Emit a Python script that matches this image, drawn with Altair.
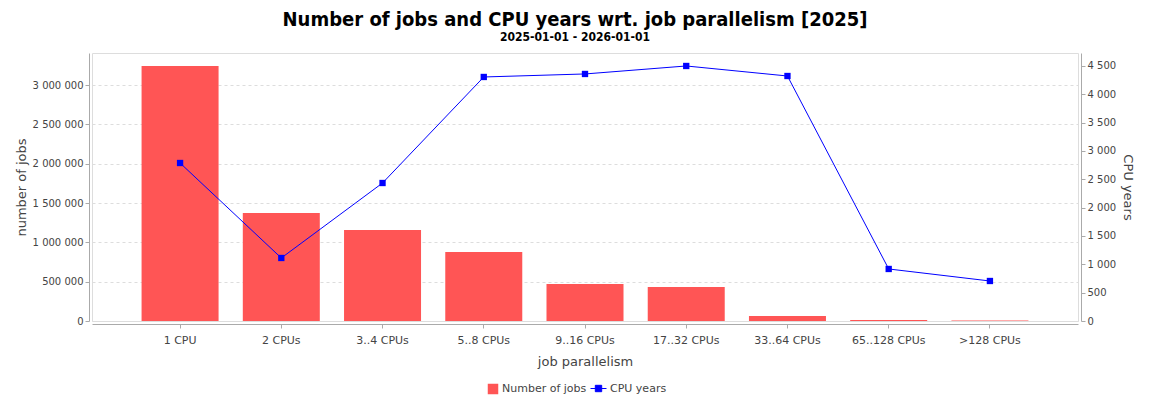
import altair as alt
import pandas as pd

categories = ["1 CPU", "2 CPUs", "3..4 CPUs", "5..8 CPUs", "9..16 CPUs",
              "17..32 CPUs", "33..64 CPUs", "65..128 CPUs", ">128 CPUs"]
jobs = [3241000, 1373000, 1157000, 877000, 470000, 432000, 64000, 13000, 6000]
cpu_years = [2788, 1112, 2435, 4306, 4359, 4500, 4323, 918, 706]

df = pd.DataFrame({"cat": categories, "jobs": jobs, "cpu": cpu_years})

FONT = "DejaVu Sans"
TXT = "#444444"
GRIDC = "#DDDDDD"
AXC = "#AAAAAA"
RED = "#FF5555"
BLUE = "#0000FF"

x_enc = alt.X("cat:N", sort=categories, title="job parallelism",
              scale=alt.Scale(paddingInner=0.24, paddingOuter=0.49),
              axis=alt.Axis(labelAngle=0, labelFont=FONT, labelFontSize=11, labelColor=TXT,
                            titleFont=FONT, titleFontSize=13, titleFontWeight="normal",
                            titleColor=TXT, domainColor=AXC, tickColor=AXC, tickSize=4,
                            offset=3, labelPadding=6, titlePadding=10, grid=False))

bars = alt.Chart(df).transform_calculate(s="'Number of jobs'").mark_bar(size=77).encode(
    x=x_enc,
    y=alt.Y("jobs:Q", title="number of jobs",
            scale=alt.Scale(domain=[0, 3407000], nice=False),
            axis=alt.Axis(values=[0, 500000, 1000000, 1500000, 2000000, 2500000, 3000000],
                          labelExpr="replace(format(datum.value, ','), regexp(',', 'g'), ' ')",
                          labelFont=FONT, labelFontSize=10, labelColor=TXT,
                          titleFont=FONT, titleFontSize=13, titleFontWeight="normal",
                          titleColor=TXT, domainColor=AXC, tickColor=AXC, tickSize=4,
                          offset=3, grid=True, gridColor=GRIDC, gridDash=[3, 3],
                          titlePadding=4)),
    fill=alt.Fill("s:N", scale=alt.Scale(domain=["Number of jobs"], range=[RED]),
                  legend=alt.Legend(title=None, orient="none", legendX=395, legendY=330,
                                    labelFont=FONT, labelFontSize=11, labelColor=TXT,
                                    symbolType="square", symbolSize=110, labelOffset=3)),
)

y2 = alt.Y("cpu:Q", title="CPU years",
           scale=alt.Scale(domain=[0, 4729], nice=False),
           axis=alt.Axis(orient="right", values=[0, 500, 1000, 1500, 2000, 2500, 3000, 3500, 4000, 4500],
                         labelExpr="replace(format(datum.value, ','), regexp(',', 'g'), ' ')",
                         labelFont=FONT, labelFontSize=10, labelColor=TXT,
                         titleFont=FONT, titleFontSize=13, titleFontWeight="normal",
                         titleColor=TXT, domainColor=AXC, tickColor=AXC, tickSize=4,
                         offset=3, grid=False, titlePadding=5))

line_base = alt.Chart(df).transform_calculate(s="'CPU years'")
line = line_base.mark_line(strokeWidth=1).encode(
    x=x_enc, y=y2,
    stroke=alt.Stroke("s:N", scale=alt.Scale(domain=["CPU years"], range=[BLUE]),
                      legend=alt.Legend(title=None, orient="none", legendX=498, legendY=327,
                                        labelFont=FONT, labelFontSize=11, labelColor=TXT,
                                        symbolType="M-1,0H1M-0.4,-0.4H0.4V0.4H-0.4Z",
                                        symbolSize=256, symbolStrokeWidth=1,
                                        symbolFillColor=BLUE, labelOffset=3)))
pts = line_base.mark_point(shape="square", filled=True, size=40, opacity=1, color=BLUE).encode(
    x=x_enc, y=y2)

right = alt.layer(line, pts)

chart = alt.layer(bars, right).resolve_scale(y="independent").properties(
    width=986, height=268,
    autosize=alt.AutoSizeParams(type="none"),
    padding={"left": 84, "top": 45, "right": 64, "bottom": 78},
    title=alt.TitleParams(
        text="Number of jobs and CPU years wrt. job parallelism [2025]",
        subtitle="2025-01-01 - 2026-01-01",
        font="DejaVu Sans Condensed", fontSize=20, fontWeight="bold", color="#000000",
        subtitleFont="DejaVu Sans Condensed", subtitleFontSize=12, subtitleFontWeight="bold",
        subtitleColor="#000000", anchor="middle", dx=-10, offset=10, subtitlePadding=2),
).configure_view(stroke="#888888", strokeWidth=1).configure(background="white")

chart.save("out.html", embed_options={"renderer": "svg", "actions": False})
